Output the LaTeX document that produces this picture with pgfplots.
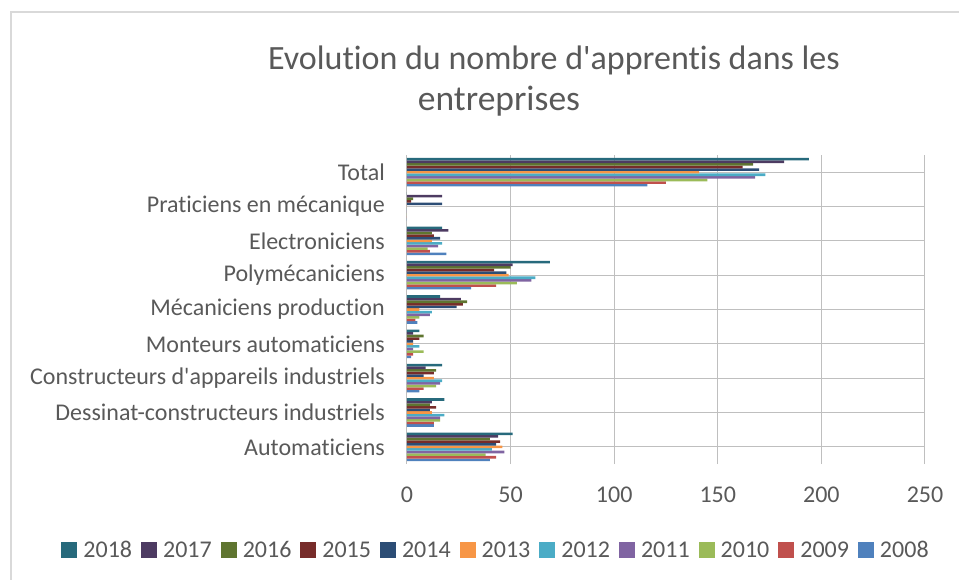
\documentclass[border=0pt]{standalone}
\usepackage{pgfplots}
\pgfplotsset{compat=1.18}
\usepackage{pgfplotstable}
\usepackage{fontspec}
\setmainfont{Carlito}[Ligatures={NoCommon}]

\definecolor{c2008}{HTML}{4F81BD}
\definecolor{c2009}{HTML}{C0504D}
\definecolor{c2010}{HTML}{9BBB59}
\definecolor{c2011}{HTML}{8064A2}
\definecolor{c2012}{HTML}{4BACC6}
\definecolor{c2013}{HTML}{F79646}
\definecolor{c2014}{HTML}{2C4D75}
\definecolor{c2015}{HTML}{772C2A}
\definecolor{c2016}{HTML}{5F7530}
\definecolor{c2017}{HTML}{4D3B62}
\definecolor{c2018}{HTML}{276A7C}
\definecolor{txt}{HTML}{595959}
\definecolor{grid}{HTML}{D9D9D9}

% rows: 0 = Automaticiens ... 8 = Total
\pgfplotstableread{
idx a2008 a2009 a2010 a2011 a2012 a2013 a2014 a2015 a2016 a2017 a2018
0   40    43    38    47    41    46    43    45    40    44    51
1   13    13    16    16    18    12    11    14    11    12    18
2   6     8     14    16    17    13    8     13    14    9     17
3   2     3     8     3     6     3     3     6     8     3     6
4   5     4     6     11    12    6     24    27    29    26    16
5   31    43    53    60    62    49    48    42    50    51    69
6   19    11    10    15    17    12    16    13    12    20    17
7   0     0     0     0     0     0     17    2     3     17    0
8   116   125   145   168   173   141   170   162   167   182   194
}\apprentis

\begin{document}
\begin{tikzpicture}[x=1pt,y=1pt]
\path[use as bounding box] (-407,-115) rectangle (552,464);
\draw[grid, line width=1.3pt] (-396,-120) -- (-396,452) -- (560,452);

\node[txt, font=\fontsize{34}{40}\selectfont] at (147,404) {Evolution du nombre d\textquotesingle apprentis dans les};
\node[txt, font=\fontsize{35.5}{40}\selectfont] at (92,363) {entreprises};

\begin{axis}[
  scale only axis, width=518pt, height=309pt,
  at={(0,0)}, anchor=south west,
  xbar=0pt, bar width=2.6pt,
  xmin=0, xmax=250, ymin=-0.5, ymax=8.5,
  xtick={0,50,...,250},
  ytick={0,...,8},
  yticklabels={Automaticiens, Dessinat-constructeurs industriels, Constructeurs d\textquotesingle appareils industriels, Monteurs automaticiens, Mécaniciens production, Polymécaniciens, Electroniciens, Praticiens en mécanique, Total},
  xmajorgrids, major grid style={grid, line width=1pt},
  axis line style={draw=none}, major tick length=0pt,
  /pgf/number format/assume math mode=true,
  ticklabel style={font=\fontsize{24}{28}\selectfont, text=txt, inner sep=0pt},
  xticklabel style={anchor=north, yshift=-23pt},
  yticklabel style={anchor=east, xshift=-22pt},
  legend columns=11, reverse legend,
  legend style={draw=none, at={(0.170,-0.278)}, anchor=center,
    font=\fontsize{24}{28}\selectfont, text=txt,
    nodes={inner sep=0pt, text height=15pt, text depth=0pt},
    /tikz/every odd column/.append style={column sep=6pt},
    /tikz/every even column/.append style={column sep=9pt}},
  legend image code/.code={\fill[#1] (0pt,-8pt) rectangle (16pt,8pt);},
]
\addplot[fill=c2008, draw=none] table[x=a2008, y=idx] {\apprentis}; \addlegendentry{2008}
\addplot[fill=c2009, draw=none] table[x=a2009, y=idx] {\apprentis}; \addlegendentry{2009}
\addplot[fill=c2010, draw=none] table[x=a2010, y=idx] {\apprentis}; \addlegendentry{2010}
\addplot[fill=c2011, draw=none] table[x=a2011, y=idx] {\apprentis}; \addlegendentry{2011}
\addplot[fill=c2012, draw=none] table[x=a2012, y=idx] {\apprentis}; \addlegendentry{2012}
\addplot[fill=c2013, draw=none] table[x=a2013, y=idx] {\apprentis}; \addlegendentry{2013}
\addplot[fill=c2014, draw=none] table[x=a2014, y=idx] {\apprentis}; \addlegendentry{2014}
\addplot[fill=c2015, draw=none] table[x=a2015, y=idx] {\apprentis}; \addlegendentry{2015}
\addplot[fill=c2016, draw=none] table[x=a2016, y=idx] {\apprentis}; \addlegendentry{2016}
\addplot[fill=c2017, draw=none] table[x=a2017, y=idx] {\apprentis}; \addlegendentry{2017}
\addplot[fill=c2018, draw=none] table[x=a2018, y=idx] {\apprentis}; \addlegendentry{2018}
\end{axis}
\end{tikzpicture}
\end{document}
